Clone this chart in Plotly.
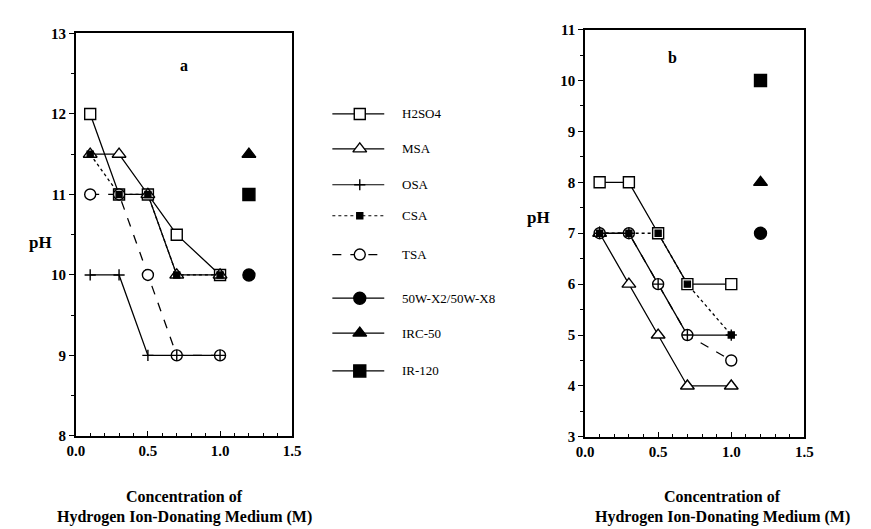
import plotly.graph_objects as go

# ---------------- data ----------------
X = [0.1, 0.3, 0.5, 0.7, 1.0]
X_RESIN = [1.2]

A_H2SO4 = [12, 11, 11, 10.5, 10]
A_MSA = [11.5, 11.5, 11, 10, 10]
A_OSA = [10, 10, 9, 9, 9]
A_CSA = [11.5, 11, 11, 10, 10]
A_TSA = [11, 11, 10, 9, 9]
A_50W = [10]
A_IRC50 = [11.5]
A_IR120 = [11]

B_H2SO4 = [8, 8, 7, 6, 6]
B_MSA = [7, 6, 5, 4, 4]
B_OSA = [7, 7, 6, 5, 5]
B_CSA = [7, 7, 7, 6, 5]
B_TSA = [7, 7, 6, 5, 4.5]
B_50W = [7]
B_IRC50 = [8]
B_IR120 = [10]

NAMES = ["H2SO4", "MSA", "OSA", "CSA", "TSA", "50W-X2/50W-X8", "IRC-50", "IR-120"]
X_TICKS = [0.0, 0.5, 1.0, 1.5]
X_TICK_TEXT = ["0.0", "0.5", "1.0", "1.5"]
A_Y_TICKS = [8, 9, 10, 11, 12, 13]
B_Y_TICKS = [3, 4, 5, 6, 7, 8, 9, 10, 11]

# ---------------- styles ----------------
W, H = 871, 529
SERIF = "Liberation Serif"
STYLE = {
    "H2SO4": dict(symbol="square", size=11, fill="white", dash="solid"),
    "MSA": dict(symbol="triangle-up", size=12, fill="white", dash="solid"),
    "OSA": dict(symbol="cross-thin", size=8, fill="black", dash="solid"),
    "CSA": dict(symbol="square", size=6, fill="black", dash="dot"),
    "TSA": dict(symbol="circle", size=11, fill="white", dash="dash"),
    "50W-X2/50W-X8": dict(symbol="circle", size=12, fill="black", dash="solid"),
    "IRC-50": dict(symbol="triangle-up", size=12, fill="black", dash="solid"),
    "IR-120": dict(symbol="square", size=12, fill="black", dash="solid"),
}
MARKER_ORDER = ["H2SO4", "MSA", "TSA", "OSA", "CSA", "50W-X2/50W-X8", "IRC-50", "IR-120"]

panels = {
    "a": dict(xa="x", ya="y", series={
        "H2SO4": (X, A_H2SO4), "MSA": (X, A_MSA), "OSA": (X, A_OSA),
        "CSA": (X, A_CSA), "TSA": (X, A_TSA),
        "50W-X2/50W-X8": (X_RESIN, A_50W), "IRC-50": (X_RESIN, A_IRC50),
        "IR-120": (X_RESIN, A_IR120)}),
    "b": dict(xa="x2", ya="y2", series={
        "H2SO4": (X, B_H2SO4), "MSA": (X, B_MSA), "OSA": (X, B_OSA),
        "CSA": (X, B_CSA), "TSA": (X, B_TSA),
        "50W-X2/50W-X8": (X_RESIN, B_50W), "IRC-50": (X_RESIN, B_IRC50),
        "IR-120": (X_RESIN, B_IR120)}),
}


def marker_dict(name, size=None):
    st = STYLE[name]
    return dict(symbol=st["symbol"], size=st["size"] if size is None else size,
                color=st["fill"], line=dict(color="black", width=1.4))


fig = go.Figure()

for p in panels.values():
    for name, (xs, ys) in p["series"].items():
        if len(xs) > 1:
            fig.add_trace(go.Scatter(
                x=xs, y=ys, mode="lines", xaxis=p["xa"], yaxis=p["ya"],
                line=dict(color="black", width=1.3, dash=STYLE[name]["dash"]),
                showlegend=False, hoverinfo="skip"))
    for name in MARKER_ORDER:
        xs, ys = p["series"][name]
        fig.add_trace(go.Scatter(
            x=xs, y=ys, mode="markers", xaxis=p["xa"], yaxis=p["ya"],
            marker=marker_dict(name), showlegend=False, name=name))

# ---------------- custom legend (pixel overlay axis) ----------------
LEG_ROWS = [101, 137, 174, 206, 246, 291, 327, 366]
LEG_X0, LEG_XM, LEG_X1, LEG_TX = 322, 350, 375, 391
for name, row in zip(NAMES, LEG_ROWS):
    st = STYLE[name]
    fig.add_trace(go.Scatter(
        x=[LEG_X0, LEG_X1], y=[row, row], mode="lines", xaxis="x3", yaxis="y3",
        line=dict(color="black", width=1.2, dash=st["dash"]),
        showlegend=False, hoverinfo="skip"))
    fig.add_trace(go.Scatter(
        x=[LEG_XM], y=[row], mode="markers", xaxis="x3", yaxis="y3",
        marker=marker_dict(name), showlegend=False, hoverinfo="skip"))

annotations = []
for name, row in zip(NAMES, LEG_ROWS):
    annotations.append(dict(x=LEG_TX / W, y=1 - row / H, xref="paper", yref="paper",
                            text=name, showarrow=False, xanchor="left", yanchor="middle",
                            font=dict(family=SERIF, size=13, color="black")))


def px(xp, yp):
    return xp / W, 1 - yp / H


for (cx, cy) in [(24, 234), (532, 208)]:
    ax_, ay_ = px(cx, cy)
    annotations.append(dict(x=ax_, y=ay_, xref="paper", yref="paper", text="<b>pH</b>",
                            showarrow=False, xanchor="center", yanchor="middle",
                            font=dict(family=SERIF, size=17, color="black")))
for cx in [171, 720]:
    for line_txt, cy in [("Concentration of", 495), ("Hydrogen Ion-Donating Medium (M)", 517)]:
        ax_, ay_ = px(cx, cy)
        annotations.append(dict(x=ax_, y=ay_, xref="paper", yref="paper",
                                text="<b>" + line_txt + "</b>", showarrow=False,
                                xanchor="center", yanchor="middle",
                                font=dict(family=SERIF, size=16, color="black")))

annotations.append(dict(x=0.75, y=12.6, xref="x", yref="y", text="<b>a</b>", showarrow=False,
                        xanchor="center", yanchor="middle",
                        font=dict(family=SERIF, size=16, color="black")))
annotations.append(dict(x=0.6, y=10.45, xref="x2", yref="y2", text="<b>b</b>", showarrow=False,
                        xanchor="center", yanchor="middle",
                        font=dict(family=SERIF, size=16, color="black")))

tickfont = dict(family=SERIF, size=15, color="black", weight="bold")


def xaxis_cfg(domain, anchor):
    return dict(domain=domain, anchor=anchor, range=[0, 1.5], tickvals=X_TICKS,
                ticktext=X_TICK_TEXT, ticks="inside", ticklen=5, tickcolor="black",
                showline=True, mirror=True, linecolor="black", linewidth=1.5,
                showgrid=False, zeroline=False, tickfont=tickfont,
                minor=dict(ticks="inside", ticklen=3, dtick=0.1, tickcolor="black"))


def yaxis_cfg(domain, anchor, rng, ticks):
    return dict(domain=domain, anchor=anchor, range=rng, tickvals=ticks,
                ticks="outside", ticklen=5, tickcolor="black",
                showline=True, mirror=True, linecolor="black", linewidth=1.5,
                showgrid=False, zeroline=False, tickfont=tickfont,
                minor=dict(ticks="outside", ticklen=3, dtick=0.5, tickcolor="black"))


fig.update_layout(
    width=W, height=H, margin=dict(l=0, r=0, t=0, b=0),
    paper_bgcolor="white", plot_bgcolor="rgba(0,0,0,0)", showlegend=False,
    xaxis=xaxis_cfg([60 / W, 281 / W], "y"),
    yaxis=yaxis_cfg([1 - 433 / H, 1 - 18 / H], "x", [8, 13], A_Y_TICKS),
    xaxis2=xaxis_cfg([580 / W, 804 / W], "y2"),
    yaxis2=yaxis_cfg([1 - 434 / H, 1 - 14 / H], "x2", [3, 11], B_Y_TICKS),
    xaxis3=dict(domain=[0, 1], anchor="y3", range=[0, W], visible=False, fixedrange=True),
    yaxis3=dict(domain=[0, 1], anchor="x3", range=[H, 0], visible=False, fixedrange=True),
    annotations=annotations,
)

fig.write_html("out.html")
